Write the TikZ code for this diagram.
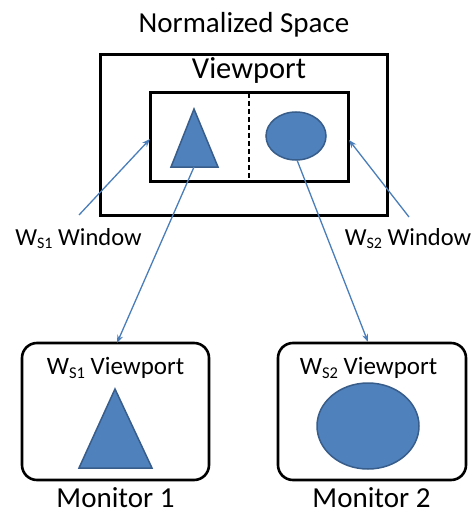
\documentclass[tikz,border=0pt]{standalone}
\usepackage{fontspec}
\setmainfont{Carlito}
\usetikzlibrary{arrows.meta,shapes.geometric}
\definecolor{shapefill}{HTML}{4F81BD}
\definecolor{shapeedge}{HTML}{385D8A}
\definecolor{linkblue}{HTML}{4A7EBB}
\newcommand\mysub[2]{\raisebox{-0.16em}{\fontsize{#1}{#1}\selectfont #2}}
\tikzset{
  frame/.style={draw=black,line width=3pt},
  monbox/.style={draw=black,line width=2.6pt,rounded corners=15pt},
  blueshape/.style={fill=shapefill,draw=shapeedge,line width=1.5pt},
  link/.style={draw=linkblue,line width=1.3pt,-{Stealth[length=8pt,width=6pt]}},
  lbl/.style={inner sep=0pt,anchor=base},
  big/.style={lbl,font=\fontsize{29}{33}\selectfont},
  mid/.style={lbl,font=\fontsize{25}{29}\selectfont},
  small/.style={lbl,font=\fontsize{24.5}{28}\selectfont},
}
\begin{document}
\begin{tikzpicture}[x=1pt,y=-1pt]
\useasboundingbox (0,0) rectangle (474,513);
% top
\node[big] (title) at (244,33) {Normalized Space};
\draw[frame] (100,55) rectangle (387,215);
\node[lbl,font=\fontsize{30.5}{34}\selectfont] (vp) at (249,79) {Viewport};
\draw[frame] (150,93) rectangle (348,181);
\coordinate (innerL) at (150,139);
\coordinate (innerR) at (349,140);
\draw[line width=1.3pt,dashed,dash pattern=on 5pt off 3pt] (249,93) -- (249,181);
\draw[blueshape] (194,109) -- (218,167) -- (171,167) -- cycle;
\coordinate (tri1) at (194,167);
\draw[blueshape] (296,136) ellipse [x radius=30,y radius=24];
\coordinate (ell1) at (297,160);
% labels
\node[small] (w1) at (78.5,245) {W\mysub{16}{S1} Window};
\node[small] (w2) at (408,245) {W\mysub{16}{S2} Window};
\coordinate (w1s) at (79,215);
\coordinate (w2s) at (409,217);
% monitors
\draw[monbox] (22,343) rectangle (209,480);
\draw[monbox] (278,343) rectangle (466,480);
\coordinate (m1top) at (117,343);
\coordinate (m2top) at (368,342);
\node[mid] (v1) at (115.5,374) {W\mysub{16.5}{S1} Viewport};
\node[mid] (v2) at (368.5,374) {W\mysub{16.5}{S2} Viewport};
\draw[blueshape] (115,389) -- (152,468) -- (79,468) -- cycle;
\draw[blueshape] (368,426) ellipse [x radius=51,y radius=43];
\node[big] (mon1) at (115.5,507) {Monitor 1};
\node[big] (mon2) at (371.5,507) {Monitor 2};
% links
\draw[link] (w1s) -- (innerL);
\draw[link] (w2s) -- (innerR);
\draw[link] (tri1) -- (m1top);
\draw[link] (ell1) -- (m2top);
\end{tikzpicture}
\end{document}
